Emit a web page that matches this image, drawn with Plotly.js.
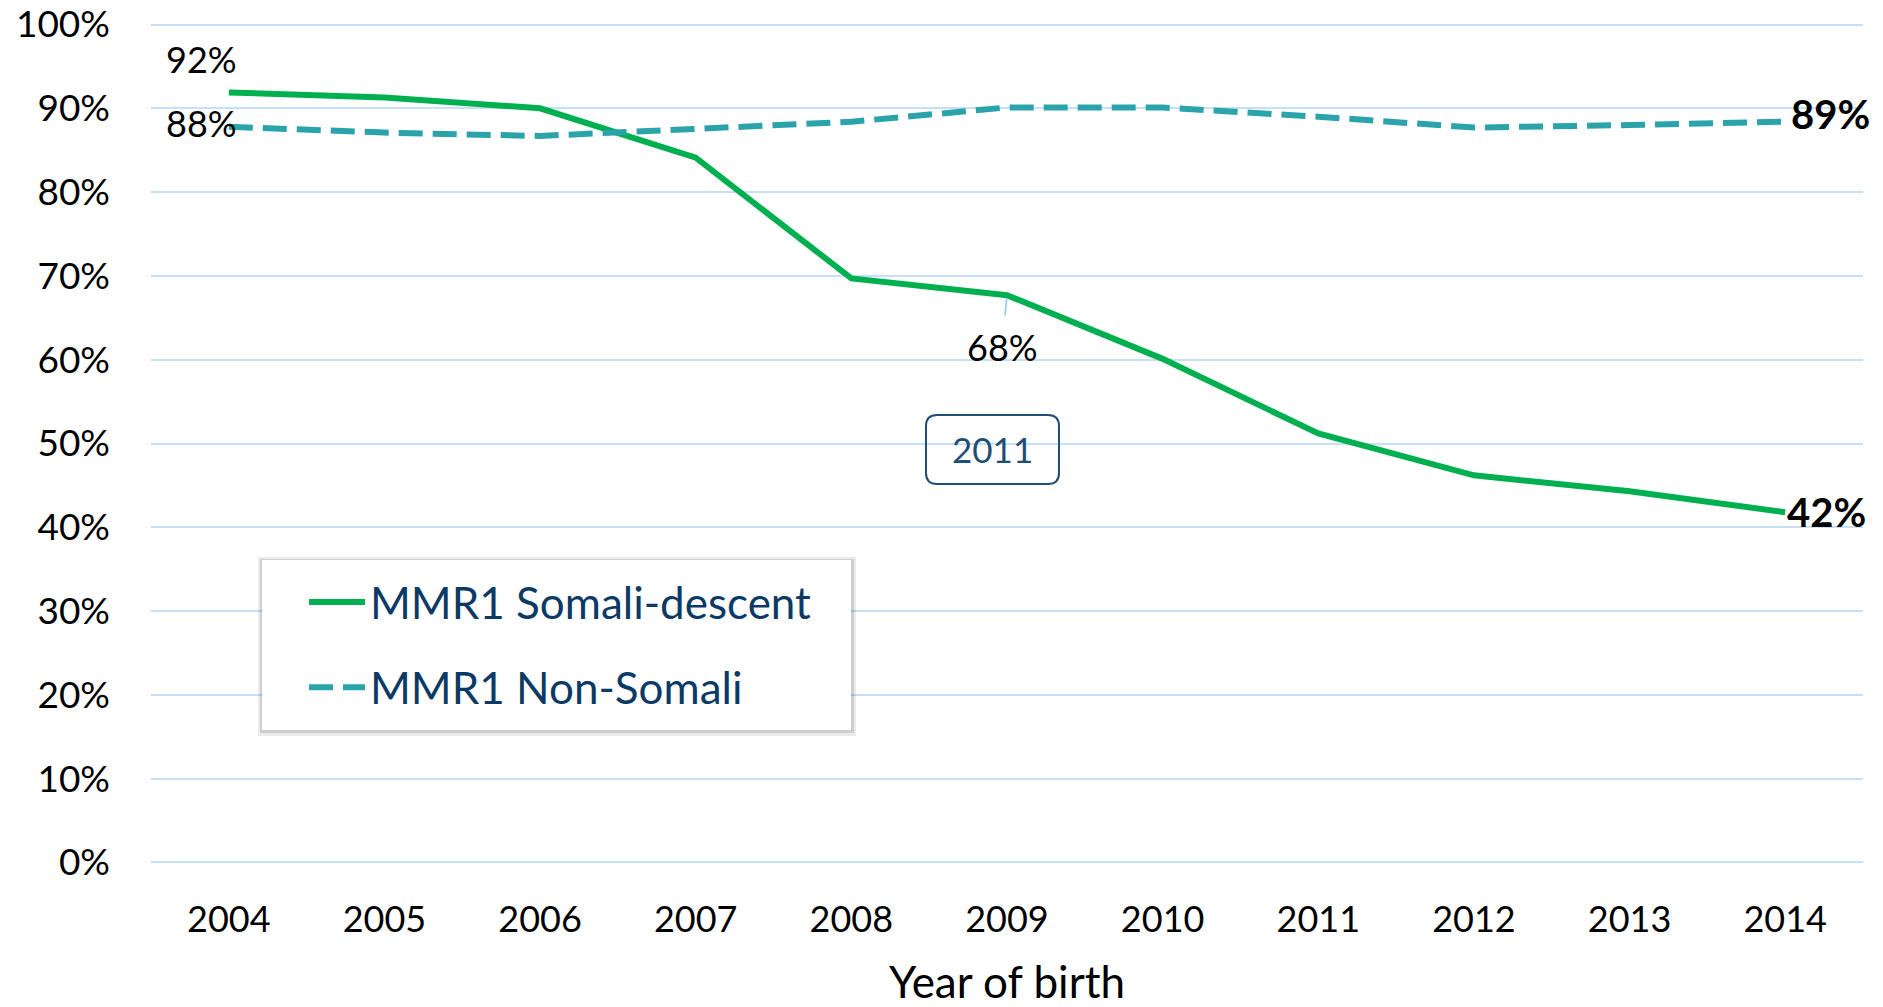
<!DOCTYPE html>
<html>
<head>
<meta charset="utf-8">
<script src="https://cdn.plot.ly/plotly-3.0.1.min.js"></script>
<style>html,body{margin:0;padding:0;background:#fff;}#chart{width:1883px;height:1007px;}</style>
</head>
<body>
<div id="chart"></div>
<script>
const years = ['2004','2005','2006','2007','2008','2009','2010','2011','2012','2013','2014'];
const somali = [91.9, 91.3, 90.0, 84.1, 69.7, 67.7, 60.1, 51.2, 46.2, 44.3, 41.8];
const nonSomali = [87.8, 87.1, 86.7, 87.6, 88.4, 90.1, 90.1, 89.0, 87.7, 88.0, 88.4];
const seriesNames = ['MMR1 Somali-descent', 'MMR1 Non-Somali'];
const yTicks = [0,10,20,30,40,50,60,70,80,90,100];
const boxLabel = '2011';
const endLabelNonSomali = '89%';

const FONT = 'Lato, "Open Sans", sans-serif';
const W = 1883, H = 1007;
const UNIT = 8.38, PAD = 0.3;
const L = 151, R = 1863, T = 24.5 - PAD * UNIT, B = 862.5 + PAD * UNIT;
const px = X => (X - L) / (R - L);
const py = Y => (B - Y) / (B - T);

function roundRect(X0, Y0, X1, Y1, r) {
  const x0 = px(X0), x1 = px(X1), y0 = py(Y1), y1 = py(Y0);
  const rx = r / (R - L), ry = r / (B - T);
  return `M${x0+rx},${y1} L${x1-rx},${y1} Q${x1},${y1} ${x1},${y1-ry} L${x1},${y0+ry} Q${x1},${y0} ${x1-rx},${y0} L${x0+rx},${y0} Q${x0},${y0} ${x0},${y0+ry} L${x0},${y1-ry} Q${x0},${y1} ${x0+rx},${y1} Z`;
}

const traces = [
  {x: years, y: somali, name: seriesNames[0], type: 'scatter', mode: 'lines',
   line: {color: '#00B050', width: 6}, legendgroup: 'a', hoverinfo: 'skip'},
  {x: years, y: nonSomali, name: seriesNames[1], type: 'scatter', mode: 'lines',
   line: {color: '#2BA3AA', width: 6, dash: '24px,10px'}, legendgroup: 'b', hoverinfo: 'skip'}
];

const legBox = {X0: 262, Y0: 560, X1: 851, Y1: 730};
const shapes = [
  {type: 'rect', xref: 'paper', yref: 'paper', layer: 'above',
   x0: px(legBox.X0 - 4), x1: px(legBox.X1 + 5), y0: py(legBox.Y1 + 6), y1: py(legBox.Y0 - 3),
   fillcolor: 'rgba(0,0,0,0.08)', line: {width: 0}},
  {type: 'rect', xref: 'paper', yref: 'paper', layer: 'above',
   x0: px(legBox.X0 - 2), x1: px(legBox.X1 + 3), y0: py(legBox.Y1 + 3), y1: py(legBox.Y0 - 1),
   fillcolor: 'rgba(0,0,0,0.12)', line: {width: 0}},
  {type: 'rect', xref: 'paper', yref: 'paper', layer: 'above',
   x0: px(legBox.X0), x1: px(legBox.X1), y0: py(legBox.Y1), y1: py(legBox.Y0),
   fillcolor: '#ffffff', line: {width: 0}},
  {type: 'path', xref: 'paper', yref: 'paper', layer: 'above',
   path: roundRect(926, 415, 1059, 484, 11),
   fillcolor: 'rgba(0,0,0,0)', line: {color: '#1F4E79', width: 2}}
];

const lblFont = {family: FONT, size: 36, color: '#000'};
const boldFont = {family: FONT, size: 40, color: '#000'};
const annotations = [
  {x: 0, y: somali[0], xref: 'x', yref: 'y', text: Math.round(somali[0]) + '%',
   showarrow: false, xshift: -27, yshift: 33, font: lblFont},
  {x: 0, y: nonSomali[0], xref: 'x', yref: 'y', text: Math.round(nonSomali[0]) + '%',
   showarrow: false, xshift: -27, yshift: 4, font: lblFont},
  {x: 10, y: nonSomali[10], xref: 'x', yref: 'y', text: '<b>' + endLabelNonSomali + '</b>',
   showarrow: false, xanchor: 'left', xshift: 4, yshift: 8, font: boldFont},
  {x: 10, y: somali[10], xref: 'x', yref: 'y', text: '<b>' + Math.round(somali[10]) + '%</b>',
   showarrow: false, xanchor: 'left', xshift: 0, yshift: 0, font: boldFont},
  {x: 5, y: somali[5], xref: 'x', yref: 'y', text: Math.round(somali[5]) + '%',
   showarrow: true, arrowhead: 0, arrowwidth: 1.5, arrowcolor: '#8EC3F0', ax: -5, ay: 52,
   standoff: 3, startstandoff: 8, font: lblFont},
  {x: px(992.5), y: py(449.5), xref: 'paper', yref: 'paper', text: boxLabel, showarrow: false,
   font: {family: FONT, size: 35, color: '#1F4E79'}}
];

const layout = {
  width: W, height: H,
  margin: {l: L, r: W - R, t: T, b: H - B},
  paper_bgcolor: '#ffffff', plot_bgcolor: '#ffffff',
  font: {family: FONT, color: '#000'},
  showlegend: true,
  legend: {x: px(304), y: py(567), xanchor: 'left', yanchor: 'top', xref: 'paper', yref: 'paper',
           bgcolor: 'rgba(0,0,0,0)', borderwidth: 0, itemwidth: 56, traceorder: 'grouped', tracegroupgap: 25,
           font: {family: FONT, size: 44, color: '#0B3A66'}},
  xaxis: {type: 'category', categoryarray: years, range: [-0.5, 10.5],
          showgrid: false, zeroline: false, showline: false, ticks: '',
          tickfont: {family: FONT, size: 36, color: '#000'}, ticklabelstandoff: 30,
          title: {text: 'Year of birth', font: {family: FONT, size: 44, color: '#000'}, standoff: 33}},
  yaxis: {range: [-PAD, 100 + PAD], tickvals: yTicks, ticktext: yTicks.map(v => v + '%'),
          showgrid: true, gridcolor: '#C5E0F7', gridwidth: 2, zeroline: false, showline: false, ticks: '',
          tickfont: {family: FONT, size: 37, color: '#000'}, ticklabelstandoff: 40},
  shapes: shapes,
  annotations: annotations
};

Plotly.newPlot('chart', traces, layout, {staticPlot: true, displayModeBar: false});
</script>
</body>
</html>
